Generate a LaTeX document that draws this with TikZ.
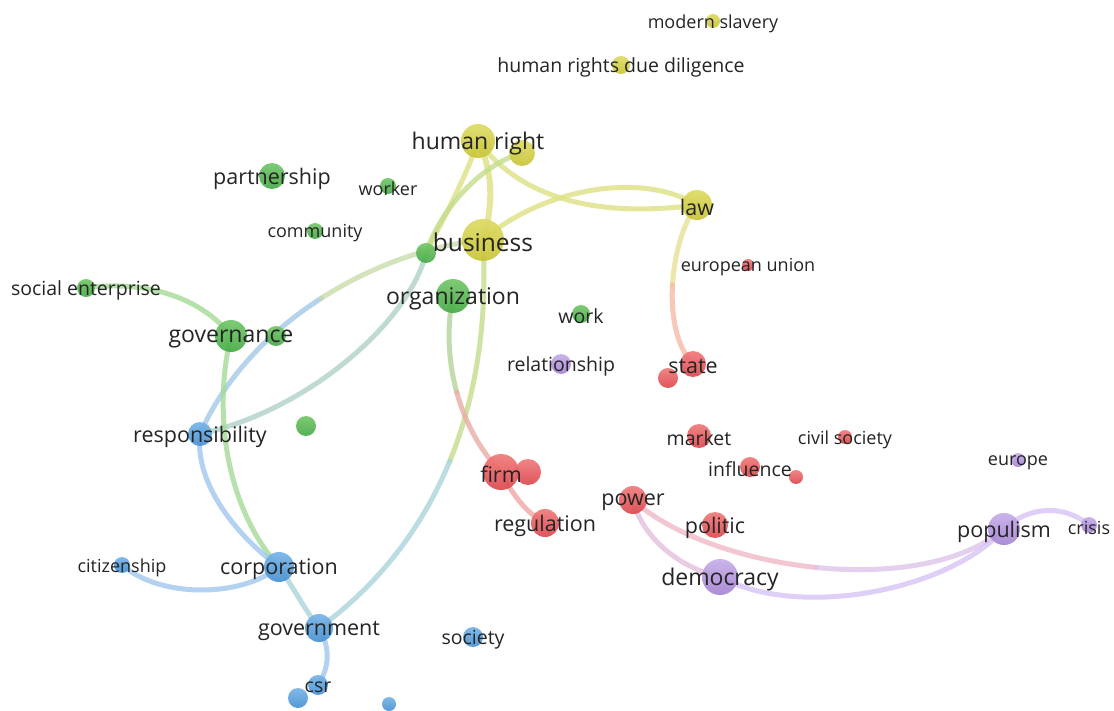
\documentclass[tikz,border=0pt]{standalone}
\usepackage{fontspec}
\setmainfont{Open Sans}
\pgfdeclarelayer{bg}
\pgfdeclarelayer{fg}
\pgfsetlayers{bg,main,fg}
\definecolor{Ybase}{RGB}{200,196,55}
\definecolor{Ylight}{RGB}{222,219,100}
\definecolor{Gbase}{RGB}{70,170,70}
\definecolor{Glight}{RGB}{115,198,105}
\definecolor{Bbase}{RGB}{70,145,210}
\definecolor{Blight}{RGB}{120,180,232}
\definecolor{Rbase}{RGB}{220,72,78}
\definecolor{Rlight}{RGB}{240,122,122}
\definecolor{Pbase}{RGB}{165,132,212}
\definecolor{Plight}{RGB}{198,174,232}
\definecolor{lbl}{RGB}{36,36,36}
\definecolor{eY}{RGB}{222,225,130}
\definecolor{eYG}{RGB}{195,222,140}
\definecolor{eGB}{RGB}{175,208,200}
\definecolor{eG}{RGB}{165,218,150}
\definecolor{eB}{RGB}{160,198,238}
\definecolor{eBG}{RGB}{170,212,218}
\definecolor{eYGB}{RGB}{200,220,170}
\definecolor{eGR}{RGB}{215,190,160}
\definecolor{eR}{RGB}{242,165,165}
\definecolor{eYO}{RGB}{230,225,150}
\definecolor{eO}{RGB}{245,185,165}
\definecolor{ePk}{RGB}{240,185,198}
\definecolor{ePP}{RGB}{222,195,235}
\definecolor{eP}{RGB}{215,195,245}
\tikzset{
  nd/.style={circle, inner sep=0pt, draw=none, opacity=0.92},
  Yn/.style={nd, top color=Ylight, bottom color=Ybase},
  Gn/.style={nd, top color=Glight, bottom color=Gbase},
  Bn/.style={nd, top color=Blight, bottom color=Bbase},
  Rn/.style={nd, top color=Rlight, bottom color=Rbase},
  Pn/.style={nd, top color=Plight, bottom color=Pbase},
  lblbase/.style={text=lbl, inner sep=0pt, yshift=-2.5pt},
  lblX/.style={lblbase, font=\fontsize{24.5}{27}\selectfont},
  lblA/.style={lblbase, font=\fontsize{23}{25}\selectfont},
  lblB/.style={lblbase, font=\fontsize{21.5}{24}\selectfont},
  lblC/.style={lblbase, font=\fontsize{19.5}{22}\selectfont},
  lblD/.style={lblbase, font=\fontsize{18}{20}\selectfont},
  edge/.style={line width=5pt, opacity=0.8, line cap=round},
}
\begin{document}
\begin{tikzpicture}[x=1pt, y=-1pt]
\useasboundingbox (0,0) rectangle (1114,711);
% ---------- yellow
\node[Yn, minimum size=34pt] (hr) at (478,141) {};
\node[Yn, minimum size=26pt] (yn) at (522,153) {};
\node[Yn, minimum size=42pt] (bus) at (483,240) {};
\node[Yn, minimum size=30pt] (law) at (697,205) {};
\node[Yn, minimum size=18pt] (hrdd) at (621,65) {};
\node[Yn, minimum size=14pt] (ms) at (713,21) {};
% ---------- green
\node[Gn, minimum size=26pt] (part) at (272,176) {};
\node[Gn, minimum size=16pt] (worker) at (388,186) {};
\node[Gn, minimum size=16pt] (comm) at (315,231) {};
\node[Gn, minimum size=20pt] (gn) at (426,253) {};
\node[Gn, minimum size=34pt] (org) at (453,296) {};
\node[Gn, minimum size=18pt] (socent) at (86,288) {};
\node[Gn, minimum size=32pt] (gov) at (231,336) {};
\node[Gn, minimum size=20pt] (gov2) at (276,336) {};
\node[Gn, minimum size=20pt] (g3) at (306,426) {};
\node[Gn, minimum size=18pt] (work) at (581,314) {};
% ---------- blue
\node[Bn, minimum size=24pt] (resp) at (200,434) {};
\node[Bn, minimum size=16pt] (citz) at (122,565) {};
\node[Bn, minimum size=30pt] (corp) at (279,567) {};
\node[Bn, minimum size=28pt] (govt) at (319,628) {};
\node[Bn, minimum size=20pt] (csr) at (318,685) {};
\node[Bn, minimum size=20pt] (b1) at (298,698) {};
\node[Bn, minimum size=14pt] (b2) at (389,704) {};
\node[Bn, minimum size=20pt] (soc) at (473,637) {};
% ---------- red
\node[Rn, minimum size=12pt] (eu) at (748,265) {};
\node[Rn, minimum size=26pt] (state) at (693,364) {};
\node[Rn, minimum size=20pt] (r1) at (668,378) {};
\node[Rn, minimum size=24pt] (market) at (699,436) {};
\node[Rn, minimum size=14pt] (cs) at (845,437) {};
\node[Rn, minimum size=20pt] (infl) at (750,467) {};
\node[Rn, minimum size=14pt] (r2) at (796,477) {};
\node[Rn, minimum size=36pt] (firm) at (501,472) {};
\node[Rn, minimum size=26pt] (r3) at (528,472) {};
\node[Rn, minimum size=28pt] (reg) at (545,523) {};
\node[Rn, minimum size=28pt] (power) at (633,500) {};
\node[Rn, minimum size=26pt] (pol) at (715,525) {};
% ---------- purple
\node[Pn, minimum size=20pt] (rel) at (561,364) {};
\node[Pn, minimum size=14pt] (europe) at (1018,460) {};
\node[Pn, minimum size=32pt] (pop) at (1004,529) {};
\node[Pn, minimum size=16pt] (crisis) at (1089,525) {};
\node[Pn, minimum size=36pt] (dem) at (720,577) {};
% ---------- labels, above every circle
\begin{pgfonlayer}{fg}
\node[lblA] (thr) at (hr) {human right};
\node[lblX] (tbus) at (bus) {business};
\node[lblB] (tlaw) at (law) {law};
\node[lblC] (thrdd) at (hrdd) {human rights due diligence};
\node[lblD] (tms) at (ms) {modern slavery};
\node[lblB] (tpart) at (part) {partnership};
\node[lblD] (tworker) at (worker) {worker};
\node[lblD] (tcomm) at (comm) {community};
\node[lblA] (torg) at (org) {organization};
\node[lblC] (tsocent) at (socent) {social enterprise};
\node[lblA] (tgov) at (gov) {governance};
\node[lblC] (twork) at (work) {work};
\node[lblB] (tresp) at (resp) {responsibility};
\node[lblD] (tcitz) at (citz) {citizenship};
\node[lblB] (tcorp) at (corp) {corporation};
\node[lblB] (tgovt) at (govt) {government};
\node[lblC] (tcsr) at (csr) {csr};
\node[lblC] (tsoc) at (soc) {society};
\node[lblD] (teu) at (eu) {european union};
\node[lblB] (tstate) at (state) {state};
\node[lblC] (tmarket) at (market) {market};
\node[lblD] (tcs) at (cs) {civil society};
\node[lblC] (tinfl) at (infl) {influence};
\node[lblB] (tfirm) at (firm) {firm};
\node[lblB] (treg) at (reg) {regulation};
\node[lblB] (tpower) at (power) {power};
\node[lblB] (tpol) at (pol) {politic};
\node[lblC] (trel) at (rel) {relationship};
\node[lblD] (teurope) at (europe) {europe};
\node[lblB] (tpop) at (pop) {populism};
\node[lblD] (tcrisis) at (crisis) {crisis};
\node[lblA] (tdem) at (dem) {democracy};
\end{pgfonlayer}
% ---------- split points of long connectors
\coordinate (m6) at (321.6,298);
\coordinate (m13) at (449.8,461);
\coordinate (m14) at (456.75,392.25);
\coordinate (m16) at (672.5,284.9);
\coordinate (m17) at (815.9,567.4);
\begin{pgfonlayer}{bg}
\fill[white] (0,0) rectangle (1114,711);
\draw[edge, draw=eY] (hr.center) .. controls (530,210) and (620,215) .. (law.center);
\draw[edge, draw=eY] (bus.center) .. controls (540,190) and (640,170) .. (law.center);
\draw[edge, draw=eY, line width=6pt] (hr.center) .. controls (495,175) and (492,210) .. (bus.center);
\draw[edge, draw=eY] (hr.center) .. controls (465,180) and (440,225) .. (gn.center);
\draw[edge, draw=eYG] (yn.center) .. controls (480,165) and (440,210) .. (gn.center);
\draw[edge, draw=eGB] (gn.center) .. controls (410,320) and (310,410) .. (resp.center);
\draw[edge, draw=eB!80!eGB] (resp.center) .. controls (225,377) and (270,331) .. (m6);
\draw[edge, draw=eYGB] (m6) .. controls (373.25,265) and (431.5,245) .. (bus.center);
\draw[edge, draw=eG] (socent.center) .. controls (140,280) and (200,295) .. (gov.center);
\draw[edge, draw=eG] (gov.center) .. controls (215,400) and (220,500) .. (corp.center);
\draw[edge, draw=eB] (resp.center) .. controls (195,480) and (230,530) .. (corp.center);
\draw[edge, draw=eB] (citz.center) .. controls (160,598) and (240,598) .. (corp.center);
\draw[edge, draw=eBG] (corp.center) .. controls (295,590) and (305,610) .. (govt.center);
\draw[edge, draw=eB] (govt.center) .. controls (332,650) and (328,670) .. (csr.center);
\draw[edge, draw=eYG] (bus.center) .. controls (487.5,320) and (476.75,395) .. (m13);
\draw[edge, draw=eBG] (m13) .. controls (422.75,527) and (379.5,584) .. (govt.center);
\draw[edge, draw=eG!70!eGR] (org.center) .. controls (446.5,328) and (448.25,361.5) .. (m14);
\draw[edge, draw=eR!70!eGR] (m14) .. controls (465.25,423) and (480.5,451) .. (firm.center);
\draw[edge, draw=eR] (firm.center) .. controls (515,500) and (530,515) .. (reg.center);
\draw[edge, draw=eYO] (law.center) .. controls (683.5,222.5) and (674.25,253.75) .. (m16);
\draw[edge, draw=eO] (m16) .. controls (670.75,316) and (676.5,347) .. (state.center);
\draw[edge, draw=ePk] (power.center) .. controls (671.5,535) and (743.25,560) .. (m17);
\draw[edge, draw=ePP] (m17) .. controls (888.5,574.75) and (962,564.5) .. (pop.center);
\draw[edge, draw=ePk!50!eP] (power.center) .. controls (640,530) and (670,565) .. (dem.center);
\draw[edge, draw=eP] (dem.center) .. controls (800,620) and (950,590) .. (pop.center);
\draw[edge, draw=eP] (pop.center) .. controls (1030,505) and (1065,505) .. (crisis.center);
\end{pgfonlayer}
\end{tikzpicture}
\end{document}
